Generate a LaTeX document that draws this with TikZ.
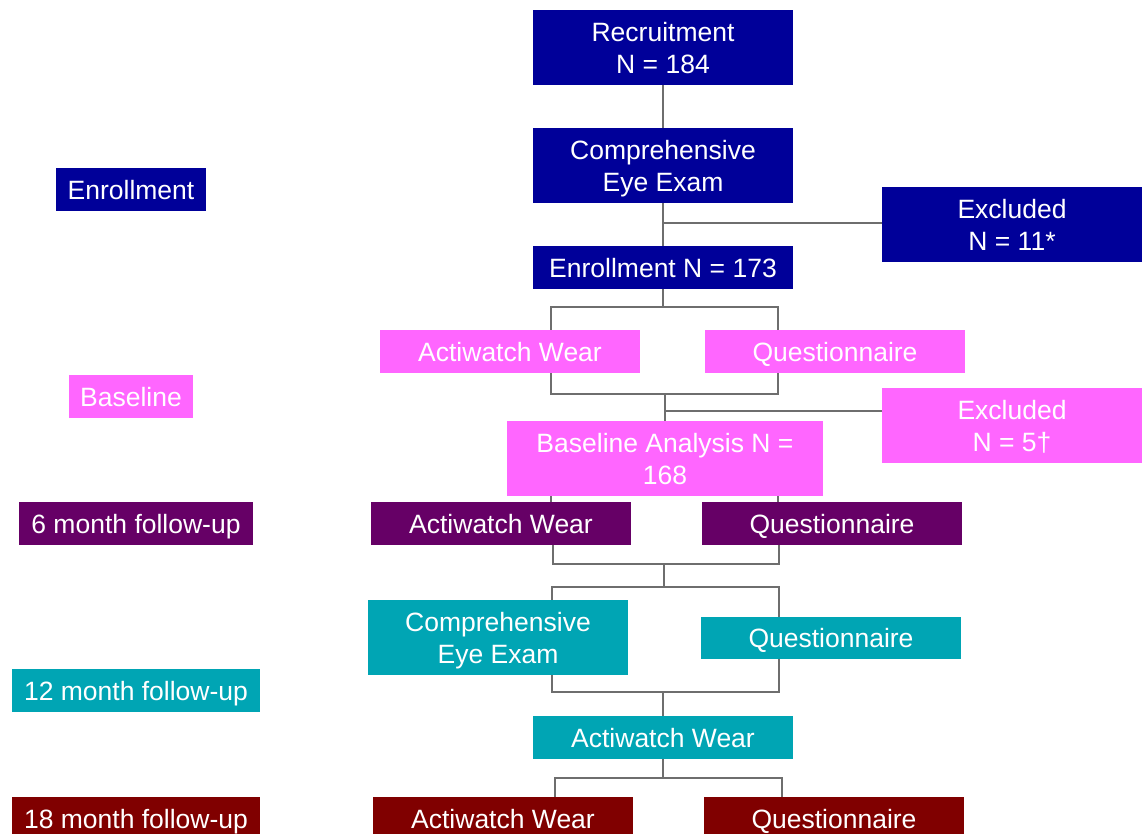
\documentclass[tikz,border=0pt]{standalone}
\usepackage{fontspec}
\setmainfont{Liberation Sans}
\definecolor{dblue}{HTML}{000099}
\definecolor{pinkc}{HTML}{FF66FF}
\definecolor{purp}{HTML}{660066}
\definecolor{tealc}{HTML}{00A5B4}
\definecolor{maroon}{HTML}{800000}
\definecolor{linegray}{HTML}{6E6E6E}
\begin{document}
\begin{tikzpicture}[x=1pt,y=-1pt,
  box/.style={fill=#1, text=white, inner sep=0pt, align=center, text depth=0pt,
    font=\fontsize{26.5}{32}\selectfont},
  tall/.style={minimum width=260, minimum height=75},
  short/.style={minimum width=260, minimum height=43},
  conn/.style={draw=linegray, line width=1.3pt}]
\useasboundingbox (0,0) rectangle (1146,834);

% Enrollment stage
\node[box=dblue, tall] (Rec) at (663,47.5) {Recruitment\\N = 184};
\node[box=dblue, tall] (CE1) at (663,165.5) {Comprehensive\\Eye Exam};
\node[box=dblue, tall] (Excl1) at (1012,224.5) {Excluded\\N = 11*};
\node[box=dblue, short] (Enr) at (663,267.5) {Enrollment N = 173};
\node[box=dblue, minimum width=150, minimum height=43] (LEnr) at (131,189.5) {Enrollment};

% Baseline stage
\node[box=pinkc, short] (PAct) at (510,351.5) {Actiwatch Wear};
\node[box=pinkc, short] (PQ) at (835,351.5) {Questionnaire};
\node[box=pinkc, minimum width=124, minimum height=43] (LBase) at (131,396.5) {Baseline};
\node[box=pinkc, tall] (Excl2) at (1012,425.5) {Excluded\\N = 5†};
\node[box=pinkc, minimum width=316, minimum height=75] (BA) at (665,458.5) {Baseline Analysis N =\\168};

% 6 month
\node[box=purp, minimum width=234, minimum height=43] (L6) at (136,523.5) {6 month follow-up};
\node[box=purp, short] (VAct) at (501,523.5) {Actiwatch Wear};
\node[box=purp, short] (VQ) at (832,523.5) {Questionnaire};

% 12 month
\node[box=tealc, tall] (TComp) at (498,637.5) {Comprehensive\\Eye Exam};
\node[box=tealc, minimum width=260, minimum height=42] (TQ) at (831,638) {Questionnaire};
\node[box=tealc, minimum width=248, minimum height=43] (L12) at (136,690.5) {12 month follow-up};
\node[box=tealc, short] (TAct) at (663,737.5) {Actiwatch Wear};

% 18 month
\node[box=maroon, minimum width=248, minimum height=43] (L18) at (136,818.5) {18 month follow-up};
\node[box=maroon, short] (MAct) at (503,818.5) {Actiwatch Wear};
\node[box=maroon, short] (MQ) at (834,818.5) {Questionnaire};

% junction coordinates
\coordinate (e1) at (663,223);
\coordinate (jL1) at (551,307);
\coordinate (jR1) at (778,307);
\coordinate (jL2) at (551,394);
\coordinate (jR2) at (778,394);
\coordinate (e2) at (665,411);
\coordinate (jL3) at (553,564);
\coordinate (jR3) at (779,564);
\coordinate (jL4) at (552,587);
\coordinate (jR4) at (779,587);
\coordinate (c34) at (664,564);
\coordinate (jL5) at (552,692);
\coordinate (jR5) at (779,692);
\coordinate (jL6) at (555,778);
\coordinate (jR6) at (782,778);

% connectors
\draw[conn] (Rec.south) -- (CE1.north);
\draw[conn] (CE1.south) -- (Enr.north);
\draw[conn] (e1) -- (Excl1.west |- e1);
\draw[conn] (Enr.south) -- (Enr.south |- jL1);
\draw[conn] (jL1 |- PAct.north) -- (jL1) -- (jR1) -- (jR1 |- PQ.north);
\draw[conn] (jL2 |- PAct.south) -- (jL2) -- (jR2) -- (jR2 |- PQ.south);
\draw[conn] (BA.north |- jL2) -- (BA.north);
\draw[conn] (e2) -- (Excl2.west |- e2);
\draw[conn] (jL2 |- BA.south) -- (jL2 |- VAct.north);
\draw[conn] (jR2 |- BA.south) -- (jR2 |- VQ.north);
\draw[conn] (jL3 |- VAct.south) -- (jL3) -- (jR3) -- (jR3 |- VQ.south);
\draw[conn] (c34) -- (c34 |- jL4);
\draw[conn] (jL4 |- TComp.north) -- (jL4) -- (jR4) -- (jR4 |- TQ.north);
\draw[conn] (jL5 |- TComp.south) -- (jL5) -- (jR5) -- (jR5 |- TQ.south);
\draw[conn] (TAct.north |- jL5) -- (TAct.north);
\draw[conn] (TAct.south) -- (TAct.south |- jL6);
\draw[conn] (jL6 |- MAct.north) -- (jL6) -- (jR6) -- (jR6 |- MQ.north);
\end{tikzpicture}
\end{document}
